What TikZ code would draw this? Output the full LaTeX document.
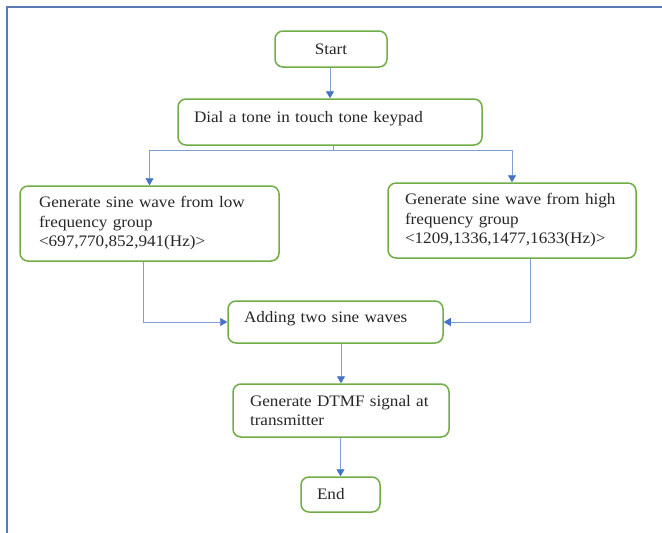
\documentclass[tikz,border=0pt]{standalone}
\usepackage{fontspec}
\setmainfont{Liberation Serif}[FakeStretch=1.07]
\usetikzlibrary{arrows.meta}
\definecolor{boxgreen}{HTML}{70AD47}
\definecolor{arrowblue}{HTML}{4472C4}
\definecolor{linkblue}{HTML}{7F9FD6}
\definecolor{framecol}{HTML}{5A7AB4}
\definecolor{textcol}{HTML}{262626}
\tikzset{
  flowbox/.style={draw=boxgreen, line width=1.5pt, rounded corners=8pt, fill=white, text=textcol,
    font=\fontsize{16}{19.5}\selectfont, inner xsep=0pt, inner ysep=0pt, align=left},
  link/.style={draw=linkblue, line width=0.9pt},
  arrowlink/.style={link, -{Triangle[width=8pt,length=7pt,color=arrowblue]}},
}
\begin{document}
\begin{tikzpicture}[x=1pt,y=-1pt]
\useasboundingbox (0,0) rectangle (662,533);
\fill[white] (0,0) rectangle (662,533);
\draw[framecol, line width=2pt] (7,533) -- (7,6.5) -- (662,6.5);

\node[flowbox, minimum width=112pt, minimum height=36pt, align=center] (start) at (331,49) {Start};
\node[flowbox, minimum width=304pt, minimum height=46pt, text width=272pt, text height=11pt, text depth=11pt] (dial) at (330,122) {Dial a tone in touch tone keypad};
\node[flowbox, minimum width=259pt, minimum height=75pt, text width=221pt] (low) at (149.5,223.5) {Generate sine wave from low\\frequency group\\<697,770,852,941(Hz)>};
\node[flowbox, minimum width=248pt, minimum height=75pt, text width=214pt] (high) at (512,220.5) {Generate sine wave from high\\frequency group\\<1209,1336,1477,1633(Hz)>};
\node[flowbox, minimum width=215pt, minimum height=42pt, text width=183pt, text height=11pt, text depth=11pt] (add) at (335.5,322) {Adding two sine waves};
\node[flowbox, minimum width=216pt, minimum height=53pt, text width=182pt] (dtmf) at (341,410.5) {Generate DTMF signal at\\transmitter};
\node[flowbox, minimum width=79pt, minimum height=35pt, text width=47pt] (end) at (340.5,494.5) {End};

\coordinate (split) at (333,150);
\draw[arrowlink] (start.south -| dial.north) -- (dial.north);
\draw[link] (dial.south -| split) -- (split);
\draw[arrowlink] (split) -| (low.north);
\draw[arrowlink] (split) -| (high.north);
\draw[arrowlink] ([xshift=-6.5pt]low.south) |- (add.west);
\draw[arrowlink] ([xshift=18pt]high.south) |- (add.east);
\draw[arrowlink] (add.south -| dtmf.north) -- (dtmf.north);
\draw[arrowlink] (dtmf.south -| end.north) -- (end.north);
\end{tikzpicture}
\end{document}
